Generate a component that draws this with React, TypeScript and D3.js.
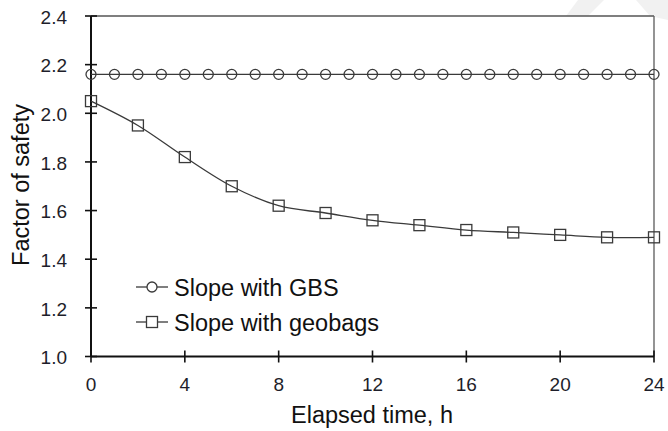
import React from "react";
import * as d3 from "d3";

// Elapsed time (h) and factor of safety for the two slope configurations
const gbsTime = [0, 1, 2, 3, 4, 5, 6, 7, 8, 9, 10, 11, 12, 13, 14, 15, 16, 17, 18, 19, 20, 21, 22, 23, 24];
const gbsFos = [2.16, 2.16, 2.16, 2.16, 2.16, 2.16, 2.16, 2.16, 2.16, 2.16, 2.16, 2.16, 2.16, 2.16, 2.16, 2.16, 2.16, 2.16, 2.16, 2.16, 2.16, 2.16, 2.16, 2.16, 2.16];
const geobagTime = [0, 2, 4, 6, 8, 10, 12, 14, 16, 18, 20, 22, 24];
const geobagFos = [2.05, 1.95, 1.82, 1.70, 1.62, 1.59, 1.56, 1.54, 1.52, 1.51, 1.50, 1.49, 1.49];

const xTicks = [0, 4, 8, 12, 16, 20, 24];
const yTicks = [1.0, 1.2, 1.4, 1.6, 1.8, 2.0, 2.2, 2.4];
const legendLabels = ["Slope with GBS", "Slope with geobags"];

const W = 668;
const H = 431;
const FONT = "Liberation Sans, Arial, sans-serif";
const TICK_FS = 19;
const TITLE_FS = 23.5;

export default function App() {
  const x = d3.scaleLinear().domain([0, 24]).range([91, 654]);
  const y = d3.scaleLinear().domain([1.0, 2.4]).range([356.5, 16]);

  const gbsPts = gbsTime.map((t, i) => [t, gbsFos[i]] as [number, number]);
  const bagPts = geobagTime.map((t, i) => [t, geobagFos[i]] as [number, number]);

  const straight = d3.line<[number, number]>().x((d) => x(d[0])).y((d) => y(d[1]));
  const smooth = d3
    .line<[number, number]>()
    .x((d) => x(d[0]))
    .y((d) => y(d[1]))
    .curve(d3.curveCatmullRom.alpha(0.5));

  const markStroke = "#3a3a3a";
  const r = 5;
  const sq = 5.5;

  const [x0, x1] = x.range();
  const [y0, y1] = y.range();

  return (
    <svg
      width={W}
      height={H}
      style={{ position: "absolute", left: 0, top: 0, background: "#fff" }}
      fontFamily={FONT}
    >
      <rect width={W} height={H} fill="#fff" />
      {/* faint background mark in the top-right corner */}
      <polygon points="578,0 604,0 588,16 566,16" fill="#f1f1f1" />
      <polygon points="636,0 668,0 668,20 650,16" fill="#f1f1f1" />

      {/* frame: top and right */}
      <line x1={x0} y1={y1} x2={x1} y2={y1} stroke="#555" strokeWidth={1.4} />
      <line x1={x1} y1={y1} x2={x1} y2={y0} stroke="#666" strokeWidth={1.4} />

      {/* y axis */}
      <line x1={x0} y1={y0} x2={x0} y2={y1} stroke="#111" strokeWidth={2} />
      {yTicks.map((v) => (
        <g key={"y" + v}>
          <line x1={x0 - 6} x2={x0 + 6} y1={y(v)} y2={y(v)} stroke="#111" strokeWidth={1.6} />
          <text x={67} y={y(v) + 7.8} textAnchor="end" fontSize={TICK_FS} fill="#1e1e2a">
            {v.toFixed(1)}
          </text>
        </g>
      ))}

      {/* x axis */}
      <line x1={x0} y1={y0} x2={x1} y2={y0} stroke="#111" strokeWidth={2} />
      {xTicks.map((v) => (
        <g key={"x" + v}>
          <line x1={x(v)} x2={x(v)} y1={y0 - 6} y2={y0 + 6} stroke="#111" strokeWidth={1.6} />
          <text x={x(v)} y={390.5} textAnchor="middle" fontSize={TICK_FS} fill="#1e1e2a">
            {v}
          </text>
        </g>
      ))}

      {/* axis titles */}
      <text x={372} y={423} textAnchor="middle" fontSize={TITLE_FS} fill="#111">
        Elapsed time, h
      </text>
      <text
        transform={`translate(29,${185}) rotate(-90)`}
        textAnchor="middle"
        fontSize={TITLE_FS}
        fill="#111"
      >
        Factor of safety
      </text>

      {/* series: slope with GBS */}
      <path d={straight(gbsPts) || ""} fill="none" stroke={markStroke} strokeWidth={1.3} />
      {gbsPts.map((d, i) => (
        <circle key={"c" + i} cx={x(d[0])} cy={y(d[1])} r={r} fill="none" stroke={markStroke} strokeWidth={1.3} />
      ))}

      {/* series: slope with geobags */}
      <path d={smooth(bagPts) || ""} fill="none" stroke={markStroke} strokeWidth={1.3} />
      {bagPts.map((d, i) => (
        <rect
          key={"s" + i}
          x={x(d[0]) - sq}
          y={y(d[1]) - sq}
          width={sq * 2}
          height={sq * 2}
          fill="none"
          stroke={markStroke}
          strokeWidth={1.3}
        />
      ))}

      {/* legend */}
      {legendLabels.map((label, i) => {
        const ly = 287 + i * 35;
        return (
          <g key={label}>
            <line x1={136} x2={168} y1={ly} y2={ly} stroke={markStroke} strokeWidth={1.3} />
            {i === 0 ? (
              <circle cx={152} cy={ly} r={r} fill="#fff" stroke={markStroke} strokeWidth={1.3} />
            ) : (
              <rect x={152 - sq} y={ly - sq} width={sq * 2} height={sq * 2} fill="#fff" stroke={markStroke} strokeWidth={1.3} />
            )}
            <text x={174} y={ly + 8.5} fontSize={TITLE_FS} fill="#111">
              {label}
            </text>
          </g>
        );
      })}
    </svg>
  );
}
